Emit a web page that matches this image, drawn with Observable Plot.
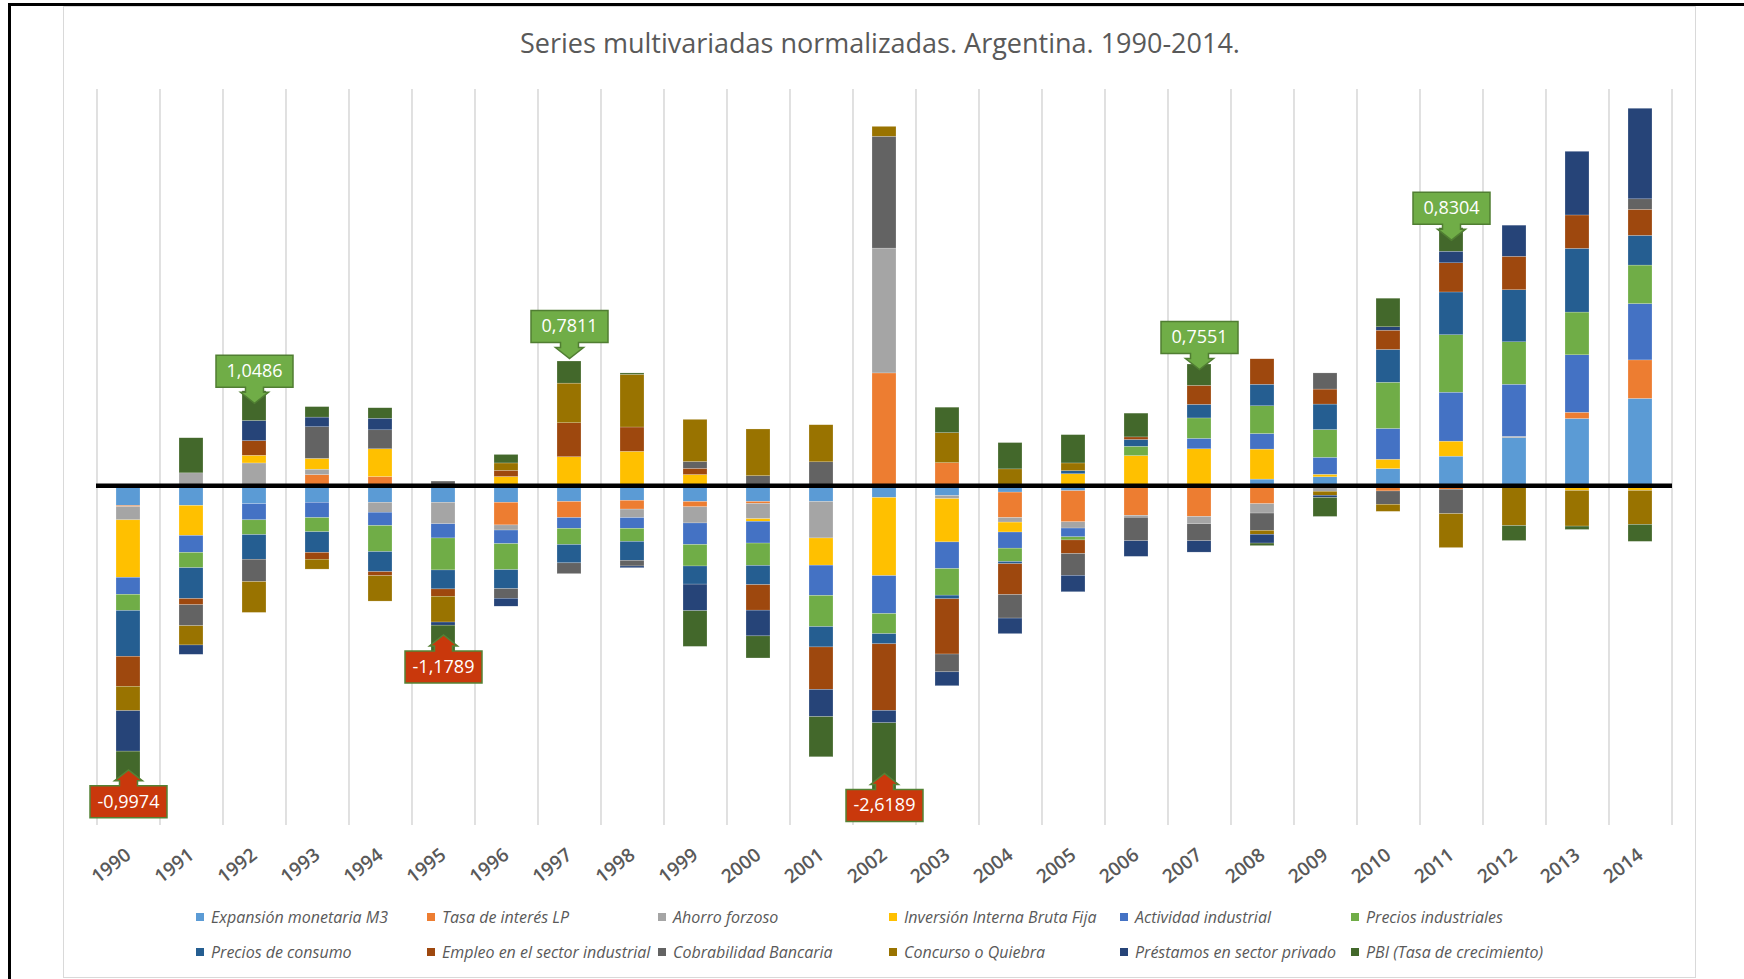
<!DOCTYPE html>
<html>
<head>
<meta charset="utf-8">
<script src="https://cdn.jsdelivr.net/npm/d3@7"></script>
<script src="https://cdn.jsdelivr.net/npm/@observablehq/plot@0.6"></script>
<style>
  body { margin: 0; background: #fff; }
  #page { position: relative; width: 1744px; height: 979px; overflow: hidden; font-family: "Open Sans", sans-serif; background: #fff; }
  .frame-top { position: absolute; left: 8px; top: 3px; width: 1736px; height: 3px; background: #000; }
  .frame-left { position: absolute; left: 8px; top: 3px; width: 3px; height: 976px; background: #000; }
  .chart-box { position: absolute; left: 63px; top: 6px; width: 1633px; height: 972px; border: 1px solid #d9d9d9; box-sizing: border-box; }
  #title { position: absolute; left: 63px; width: 1634px; top: 26px; height: 34px; line-height: 34px; text-align: center; font-size: 27px; color: #595959; font-weight: 400; }
  #chart { position: absolute; left: 0; top: 60px; }
  #legend { position: absolute; left: 196px; top: 899px; display: grid; grid-template-columns: repeat(6, 231px); grid-auto-rows: 35px; }
  .item { display: flex; align-items: center; font-style: italic; font-size: 16px; color: #595959; white-space: nowrap; }
  .sw { width: 8px; height: 8px; margin-right: 7px; flex: none; }
</style>
</head>
<body>
<div id="page">
  <div class="chart-box"></div>
  <div class="frame-top"></div>
  <div class="frame-left"></div>
  <div id="title">Series multivariadas normalizadas. Argentina. 1990-2014.</div>
  <div id="chart"></div>
  <div id="legend"></div>
</div>
<script>
const years = ["1990","1991","1992","1993","1994","1995","1996","1997","1998","1999","2000","2001","2002","2003","2004","2005","2006","2007","2008","2009","2010","2011","2012","2013","2014"];

const seriesNames = [
  "Expansión monetaria M3",
  "Tasa de interés LP",
  "Ahorro forzoso",
  "Inversión Interna Bruta Fija",
  "Actividad industrial",
  "Precios industriales",
  "Precios de consumo",
  "Empleo en el sector industrial",
  "Cobrabilidad Bancaria",
  "Concurso o Quiebra",
  "Préstamos en sector privado",
  "PBI (Tasa de crecimiento)"
];

const expansionM3   = [-0.71,-0.71,-0.65,-0.60,-0.60,-0.60,-0.60,-0.57,-0.53,-0.57,-0.57,-0.57,-0.43,-0.36,-0.24,-0.19,0,0,0.22,0.30,0.59,1.03,1.68,2.36,3.07];
const tasaInteres   = [-0.04,0,0,0.38,0.31,0,-0.80,-0.57,-0.31,-0.19,-0.07,0,3.97,0.80,-0.90,-1.10,-1.06,-1.10,-0.65,0,-0.20,-0.14,0,0.22,1.36];
const ahorroForzoso = [-0.47,0.44,0.79,0.19,-0.35,-0.76,-0.18,0,-0.30,-0.57,-0.54,-1.29,4.41,-0.11,-0.16,-0.22,-0.07,-0.26,-0.33,-0.21,0,0,0.05,0,0];
const inversion     = [-2.03,-1.06,0.27,0.38,0.98,0,0.31,1.01,1.20,0.38,-0.09,-0.96,-2.76,-1.53,-0.35,0.41,1.05,1.29,1.06,0.09,0.33,0.53,-0.04,-0.18,-0.18];
const actividad     = [-0.60,-0.60,-0.57,-0.54,-0.47,-0.50,-0.48,-0.38,-0.38,-0.76,-0.77,-1.07,-1.34,-0.94,-0.57,-0.31,0,0.37,0.55,0.60,1.09,1.73,1.84,2.03,1.99];
const preciosInd    = [-0.57,-0.54,-0.52,-0.50,-0.92,-1.13,-0.92,-0.57,-0.46,-0.76,-0.79,-1.10,-0.71,-0.94,-0.47,-0.11,0.33,0.72,0.98,0.98,1.63,2.03,1.50,1.51,1.36];
const preciosCons   = [-1.62,-1.09,-0.87,-0.73,-0.71,-0.67,-0.67,-0.65,-0.67,-0.64,-0.68,-0.72,-0.36,-0.13,-0.08,0.11,0.24,0.48,0.76,0.90,1.16,1.51,1.84,2.25,1.05];
const empleo        = [-1.06,-0.22,0.52,-0.24,-0.14,-0.26,0.22,1.20,0.86,0.22,-0.90,-1.50,-2.35,-1.95,-1.09,-0.48,0.09,0.67,0.90,0.53,0.68,1.03,1.18,1.18,0.92];
const cobrabilidad  = [0,-0.74,-0.79,1.12,0.67,0.15,-0.34,-0.38,-0.20,0.24,0.34,0.83,3.95,-0.63,-0.83,-0.77,-0.83,-0.60,-0.61,0.57,-0.47,-0.86,0,0,0.37];
const concurso      = [-0.86,-0.68,-1.09,-0.35,-0.90,-0.91,0.26,1.40,1.86,1.49,1.65,1.31,0.35,1.06,0.58,0.27,0,0,-0.14,-0.14,-0.25,-1.20,-1.38,-1.26,-1.20];
const prestamos     = [-1.43,-0.33,0.71,0.34,0.41,-0.11,-0.28,0,-0.06,-0.94,-0.91,-0.96,-0.44,-0.49,-0.55,-0.58,-0.55,-0.40,-0.31,-0.08,0.12,0.41,1.10,2.25,3.20];
const pbi           = [-0.9974,1.24,1.0486,0.37,0.37,-1.1789,0.30,0.7811,0.05,-1.26,-0.78,-1.42,-2.6189,0.90,0.93,1.00,0.84,0.7551,-0.09,-0.67,1.01,0.8304,-0.53,-0.12,-0.60];

const calloutYears = ["1990","1992","1995","1997","2002","2007","2011"];

const seriesValues = [expansionM3, tasaInteres, ahorroForzoso, inversion, actividad, preciosInd, preciosCons, empleo, cobrabilidad, concurso, prestamos, pbi];

// styling
const colors = ["#5B9BD5","#ED7D31","#A5A5A5","#FFC000","#4472C4","#70AD47","#255E91","#9E480E","#636363","#997300","#264478","#43682B"];
const calloutShift = [0, 0, -14, -15, -14, -7, 0]; // manual pixel nudges of the hand-placed callouts

// flat table for Plot
const table = [];
years.forEach((yr, i) => {
  seriesNames.forEach((s, k) => {
    const v = seriesValues[k][i];
    if (v !== 0) table.push({year: yr, series: s, value: v});
  });
});

// callouts: placed at the outer end of the stack (PBI is the last series)
const callouts = calloutYears.map((yr, j) => {
  const i = years.indexOf(yr);
  const v = pbi[i];
  const vals = seriesValues.map(a => a[i]);
  const end = v >= 0 ? d3.sum(vals.filter(d => d > 0)) : d3.sum(vals.filter(d => d < 0));
  return {year: yr, end, value: v, shift: calloutShift[j], label: v.toFixed(4).replace(".", ",")};
});

const calloutDown = {
  draw(ctx) {
    ctx.moveTo(-38.5, -36); ctx.lineTo(38.5, -36); ctx.lineTo(38.5, -4);
    ctx.lineTo(9, -4); ctx.lineTo(9, 1); ctx.lineTo(14, 1); ctx.lineTo(0, 12);
    ctx.lineTo(-14, 1); ctx.lineTo(-9, 1); ctx.lineTo(-9, -4); ctx.lineTo(-38.5, -4);
    ctx.closePath();
  }
};
const calloutUp = {
  draw(ctx) {
    ctx.moveTo(-38.5, 38); ctx.lineTo(38.5, 38); ctx.lineTo(38.5, 6);
    ctx.lineTo(9, 6); ctx.lineTo(9, 1); ctx.lineTo(14, 1); ctx.lineTo(0, -10);
    ctx.lineTo(-14, 1); ctx.lineTo(-9, 1); ctx.lineTo(-9, 6); ctx.lineTo(-38.5, 6);
    ctx.closePath();
  }
};

const calloutMarks = callouts.flatMap(c => {
  const pos = c.value >= 0;
  return [
    Plot.dot([c], {x: "year", y: "end", dy: c.shift, symbol: pos ? calloutDown : calloutUp, r: 10,
      fill: pos ? "#70AD47" : "#C9380C", stroke: pos ? "#507E32" : "#548235", strokeWidth: 1.5}),
    Plot.text([c], {x: "year", y: "end", text: "label", dy: c.shift + (pos ? -20 : 22), fill: "white", fontSize: 18})
  ];
});

const W = 1744, H = 840, mL = 96, mR = 72, mT = 29, mB = 75;
const step = (W - mL - mR) / years.length;

const chart = Plot.plot({
  width: W, height: H,
  marginLeft: mL, marginRight: mR, marginTop: mT, marginBottom: mB,
  style: {fontFamily: "Open Sans, sans-serif", fontSize: "19px", color: "#595959", background: "transparent", overflow: "visible"},
  x: {type: "band", domain: years, paddingInner: 0.615, paddingOuter: 0.3075, align: 0.5, axis: null},
  y: {domain: [-12, 14], axis: null},
  color: {domain: seriesNames, range: colors},
  marks: [
    Plot.ruleX(years, {x: d => d, dx: -step / 2, y1: -12, y2: 14, stroke: "#d9d9d9", strokeWidth: 1.6}),
    Plot.ruleX(years.slice(-1), {x: d => d, dx: step / 2, y1: -12, y2: 14, stroke: "#d9d9d9", strokeWidth: 1.6}),
    Plot.barY(table, {x: "year", y: "value", fill: "series", stroke: "white", strokeWidth: 0.4, strokeOpacity: 0.5}),
    Plot.ruleY([0], {stroke: "#000", strokeWidth: 4.5}),
    Plot.axisX({tickRotate: -38, tickSize: 0, tickPadding: 27, fontSize: 19, fontWeight: 600, color: "#595959", label: null}),
    ...calloutMarks
  ]
});
document.getElementById("chart").appendChild(chart);

// legend
const legend = document.getElementById("legend");
seriesNames.forEach((s, k) => {
  const it = document.createElement("div");
  it.className = "item";
  const sw = document.createElement("span");
  sw.className = "sw";
  sw.style.background = colors[k];
  const tx = document.createElement("span");
  tx.textContent = s;
  it.appendChild(sw); it.appendChild(tx);
  legend.appendChild(it);
});
</script>
</body>
</html>
